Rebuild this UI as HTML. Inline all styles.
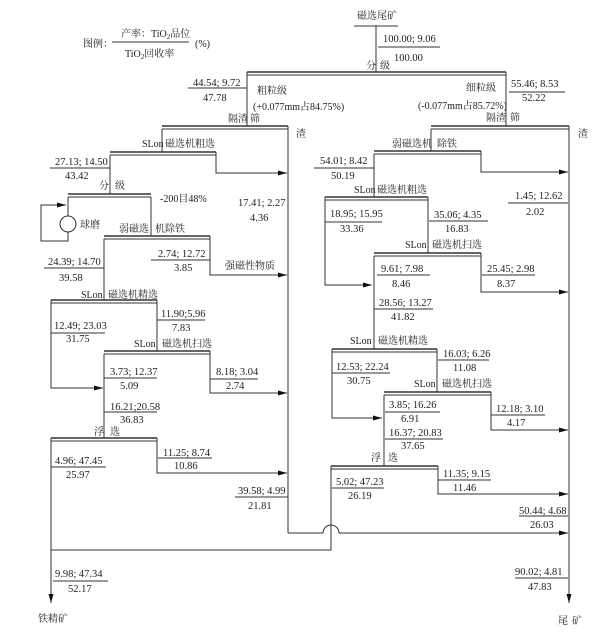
<!DOCTYPE html>
<html><head><meta charset="utf-8"><style>
html,body{margin:0;padding:0;background:#fff}
svg{display:block}
text{font-family:"Liberation Serif","Noto Serif CJK SC",serif;font-size:10.5px;fill:#222}
.c{font-size:10px}
</style></head><body>
<svg width="600" height="634" viewBox="0 0 600 634" xmlns="http://www.w3.org/2000/svg">
<defs><marker id="a" markerWidth="10" markerHeight="6" refX="9" refY="3" orient="auto" markerUnits="userSpaceOnUse"><path d="M0,0.5 L9,3 L0,5.5 z" fill="#111"/></marker></defs>
<g stroke="#333" stroke-width="1" fill="none">
<!-- legend -->
<line x1="112" y1="42" x2="189" y2="42"/>
<!-- top -->
<line x1="354" y1="26" x2="398" y2="26"/>
<line x1="376" y1="26" x2="376" y2="72"/>
<line x1="378" y1="47" x2="440" y2="47"/>
<line x1="247" y1="72" x2="506" y2="72" stroke-width="1.5"/><line x1="247" y1="75" x2="506" y2="75"/>
<line x1="247" y1="72" x2="247" y2="126"/><line x1="506" y1="72" x2="506" y2="126"/>
<line x1="188" y1="88" x2="247" y2="88"/><line x1="509" y1="92" x2="565" y2="92"/>
<!-- left screen -->
<line x1="162" y1="126" x2="288" y2="126" stroke-width="1.5"/><line x1="162" y1="129" x2="288" y2="129"/>
<line x1="288" y1="126" x2="288" y2="533"/>
<line x1="162" y1="129" x2="162" y2="152"/>
<line x1="110" y1="152" x2="216" y2="152" stroke-width="1.5"/><line x1="110" y1="155" x2="216" y2="155"/>
<polyline points="216,152 216,173 287,173" marker-end="url(#a)"/>
<line x1="110" y1="155" x2="110" y2="194"/>
<line x1="50" y1="168" x2="110" y2="168"/>
<line x1="68" y1="194" x2="151" y2="194" stroke-width="1.5"/><line x1="68" y1="197" x2="151" y2="197"/>
<line x1="68" y1="197" x2="68" y2="216"/>
<circle cx="68" cy="224" r="8"/>
<polyline points="68,232 68,241 41,241 41,205 66,205" marker-end="url(#a)"/>
<line x1="151" y1="197" x2="151" y2="236"/>
<line x1="104" y1="236" x2="210" y2="236" stroke-width="1.5"/><line x1="104" y1="239" x2="210" y2="239"/>
<polyline points="210,236 210,275 287,275" marker-end="url(#a)"/>
<line x1="151" y1="260" x2="210" y2="260"/>
<line x1="104" y1="239" x2="104" y2="300"/>
<line x1="44" y1="268" x2="104" y2="268"/>
<line x1="51" y1="300" x2="157" y2="300" stroke-width="1.5"/><line x1="51" y1="303" x2="157" y2="303"/>
<polyline points="51,300 51,388 103,388" marker-end="url(#a)"/>
<line x1="157" y1="300" x2="157" y2="351"/>
<line x1="157" y1="320" x2="205" y2="320"/><line x1="51" y1="333" x2="105" y2="333"/>
<line x1="104" y1="351" x2="210" y2="351" stroke-width="1.5"/><line x1="104" y1="354" x2="210" y2="354"/>
<polyline points="210,351 210,393 287,393" marker-end="url(#a)"/>
<line x1="210" y1="379" x2="258" y2="379"/><line x1="104" y1="378" x2="157" y2="378"/>
<line x1="104" y1="412" x2="157" y2="412"/>
<line x1="104" y1="354" x2="104" y2="438"/>
<line x1="51" y1="438" x2="157" y2="438" stroke-width="1.5"/><line x1="51" y1="441" x2="157" y2="441"/>
<polyline points="157,438 157,473 287,473" marker-end="url(#a)"/>
<line x1="158" y1="458" x2="212" y2="458"/><line x1="51" y1="467" x2="106" y2="467"/>
<line x1="51" y1="438" x2="51" y2="603" marker-end="url(#a)"/>
<line x1="53" y1="581" x2="108" y2="581"/>
<line x1="235" y1="497" x2="288" y2="497"/>
<polyline points="51,550 331,550 331,466"/>
<path d="M288,533 H323 A8,8 0 0 1 339,533 H568" marker-end="url(#a)"/>
<!-- right -->
<line x1="431" y1="126" x2="569" y2="126" stroke-width="1.5"/><line x1="431" y1="129" x2="569" y2="129"/>
<line x1="569" y1="126" x2="569" y2="603" marker-end="url(#a)"/>
<line x1="431" y1="129" x2="431" y2="151"/>
<line x1="374" y1="151" x2="481" y2="151" stroke-width="1.5"/><line x1="374" y1="154" x2="481" y2="154"/>
<polyline points="481,151 481,172 568,172" marker-end="url(#a)"/>
<line x1="508" y1="203" x2="568" y2="203"/>
<line x1="314" y1="168" x2="374" y2="168"/>
<line x1="374" y1="154" x2="374" y2="197"/>
<line x1="325" y1="197" x2="428" y2="197" stroke-width="1.5"/><line x1="325" y1="200" x2="428" y2="200"/>
<polyline points="325,197 325,285 372,285" marker-end="url(#a)"/>
<line x1="428" y1="197" x2="428" y2="253"/>
<line x1="325" y1="222" x2="382" y2="222"/><line x1="429" y1="221" x2="488" y2="221"/>
<line x1="374" y1="253" x2="481" y2="253" stroke-width="1.5"/><line x1="374" y1="256" x2="481" y2="256"/>
<polyline points="481,253 481,292 568,292" marker-end="url(#a)"/>
<line x1="482" y1="275" x2="535" y2="275"/><line x1="377" y1="275" x2="430" y2="275"/>
<line x1="374" y1="309" x2="433" y2="309"/>
<line x1="374" y1="256" x2="374" y2="349"/>
<line x1="332" y1="349" x2="437" y2="349" stroke-width="1.5"/><line x1="332" y1="352" x2="437" y2="352"/>
<polyline points="332,349 332,418 382,418" marker-end="url(#a)"/>
<line x1="437" y1="349" x2="437" y2="392"/>
<line x1="438" y1="360" x2="489" y2="360"/><line x1="332" y1="373" x2="390" y2="373"/>
<line x1="384" y1="392" x2="491" y2="392" stroke-width="1.5"/><line x1="384" y1="395" x2="491" y2="395"/>
<polyline points="491,392 491,430 568,430" marker-end="url(#a)"/>
<line x1="491" y1="415" x2="545" y2="415"/><line x1="385" y1="412" x2="440" y2="412"/>
<line x1="385" y1="439" x2="443" y2="439"/>
<line x1="384" y1="395" x2="384" y2="466"/>
<line x1="331" y1="466" x2="438" y2="466" stroke-width="1.5"/><line x1="331" y1="469" x2="438" y2="469"/>
<polyline points="438,466 438,494 568,494" marker-end="url(#a)"/>
<line x1="438" y1="480" x2="491" y2="480"/><line x1="332" y1="488" x2="384" y2="488"/>
<line x1="519" y1="516" x2="568" y2="516"/><line x1="515" y1="578" x2="568" y2="578"/>
</g>
<g>
<text x="83" y="47" class="c">图例：</text>
<text x="121" y="37" class="c">产率：TiO<tspan font-size="7" dy="2">2</tspan><tspan dy="-2">品位</tspan></text>
<text x="125" y="57" class="c">TiO<tspan font-size="7" dy="2">2</tspan><tspan dy="-2">回收率</tspan></text>
<text x="195" y="47" class="c">(%)</text>
<text x="357" y="19" class="c">磁选尾矿</text>
<text x="383" y="42">100.00; 9.06</text><text x="394" y="61">100.00</text>
<text x="366" y="69" class="c">分</text><text x="380" y="69" class="c">级</text>
<text x="193" y="86">44.54; 9.72</text><text x="203" y="101">47.78</text>
<text x="257" y="94" class="c">粗粒级</text>
<text x="253" y="110" class="c">(+0.077mm占84.75%)</text>
<text x="228" y="122" class="c">隔渣</text><text x="250" y="122" class="c">筛</text>
<text x="466" y="91" class="c">细粒级</text>
<text x="418" y="109" class="c">(-0.077mm占85.72%)</text>
<text x="511" y="87">55.46; 8.53</text><text x="522" y="101">52.22</text>
<text x="486" y="121" class="c">隔渣</text><text x="510" y="121" class="c">筛</text>
<text x="296" y="137" class="c">渣</text><text x="578" y="137" class="c">渣</text>
<text x="142" y="147" class="c">SLon</text><text x="165" y="147" class="c">磁选机粗选</text>
<text x="55" y="165">27.13; 14.50</text><text x="65" y="179">43.42</text>
<text x="99" y="189" class="c">分</text><text x="115" y="189" class="c">级</text>
<text x="160" y="202" class="c">-200目48%</text>
<text x="80" y="228" class="c">球磨</text>
<text x="238" y="206">17.41; 2.27</text><text x="250" y="221">4.36</text>
<text x="119" y="232" class="c">弱磁选</text><text x="155" y="232" class="c">机除铁</text>
<text x="158" y="257">2.74; 12.72</text><text x="174" y="271">3.85</text>
<text x="225" y="269" class="c">强磁性物质</text>
<text x="48" y="265">24.39; 14.70</text><text x="59" y="281">39.58</text>
<text x="81" y="298" class="c">SLon</text><text x="108" y="298" class="c">磁选机精选</text>
<text x="161" y="317">11.90;5.96</text><text x="172" y="331">7.83</text>
<text x="54" y="329">12.49; 23.03</text><text x="66" y="342">31.75</text>
<text x="134" y="347" class="c">SLon</text><text x="162" y="347" class="c">磁选机扫选</text>
<text x="216" y="375">8.18; 3.04</text><text x="226" y="389">2.74</text>
<text x="110" y="375">3.73; 12.37</text><text x="120" y="389">5.09</text>
<text x="110" y="410">16.21;20.58</text><text x="120" y="423">36.83</text>
<text x="94" y="435" class="c">浮</text><text x="110" y="435" class="c">选</text>
<text x="163" y="456">11.25; 8.74</text><text x="174" y="469">10.86</text>
<text x="55" y="464">4.96; 47.45</text><text x="66" y="478">25.97</text>
<text x="238" y="494">39.58; 4.99</text><text x="248" y="509">21.81</text>
<text x="55" y="577">9.98; 47.34</text><text x="68" y="592">52.17</text>
<text x="38" y="622" class="c">铁精矿</text>
<text x="392" y="147" class="c">弱磁选机</text><text x="437" y="147" class="c">除铁</text>
<text x="320" y="164">54.01; 8.42</text><text x="331" y="179">50.19</text>
<text x="515" y="199">1.45; 12.62</text><text x="526" y="215">2.02</text>
<text x="354" y="193" class="c">SLon</text><text x="377" y="193" class="c">磁选机粗选</text>
<text x="330" y="217">18.95; 15.95</text><text x="340" y="232">33.36</text>
<text x="434" y="218">35.06; 4.35</text><text x="445" y="232">16.83</text>
<text x="405" y="248" class="c">SLon</text><text x="432" y="248" class="c">磁选机扫选</text>
<text x="487" y="272">25.45; 2.98</text><text x="497" y="287">8.37</text>
<text x="381" y="272">9.61; 7.98</text><text x="392" y="287">8.46</text>
<text x="379" y="306">28.56; 13.27</text><text x="391" y="320">41.82</text>
<text x="350" y="344" class="c">SLon</text><text x="378" y="344" class="c">磁选机精选</text>
<text x="443" y="357">16.03; 6.26</text><text x="453" y="371">11.08</text>
<text x="336" y="370">12.53; 22.24</text><text x="347" y="384">30.75</text>
<text x="414" y="387" class="c">SLon</text><text x="442" y="387" class="c">磁选机扫选</text>
<text x="496" y="412">12.18; 3.10</text><text x="507" y="426">4.17</text>
<text x="389" y="408">3.85; 16.26</text><text x="401" y="422">6.91</text>
<text x="389" y="436">16.37; 20.83</text><text x="401" y="449">37.65</text>
<text x="371" y="461" class="c">浮</text><text x="388" y="461" class="c">选</text>
<text x="443" y="477">11.35; 9.15</text><text x="453" y="491">11.46</text>
<text x="336" y="485">5.02; 47.23</text><text x="348" y="499">26.19</text>
<text x="519" y="514">50.44; 4.68</text><text x="530" y="528">26.03</text>
<text x="515" y="575">90.02; 4.81</text><text x="528" y="590">47.83</text>
<text x="558" y="624" class="c">尾</text><text x="572" y="624" class="c">矿</text>
</g>
</svg>
</body></html>
